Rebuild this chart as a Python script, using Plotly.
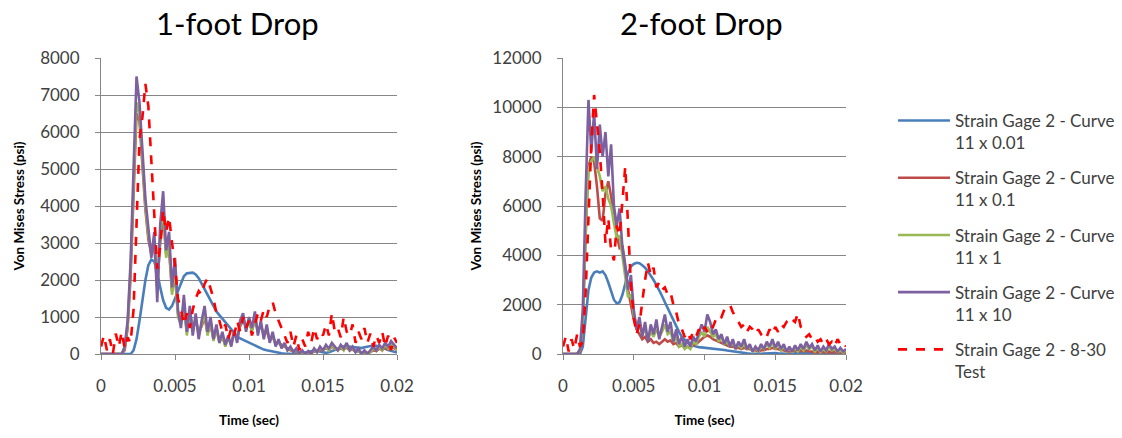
import numpy as np
import plotly.graph_objects as go

# Sample grid (seconds) shared by all series
time_s = np.round(np.linspace(0.0, 0.02, 101), 5)

series_names = [
    "Strain Gage 2 - Curve<br>11 x 0.01",
    "Strain Gage 2 - Curve<br>11 x 0.1",
    "Strain Gage 2 - Curve<br>11 x 1",
    "Strain Gage 2 - Curve<br>11 x 10",
    "Strain Gage 2 - 8-30<br>Test",
]
panel_titles = ["1-foot Drop", "2-foot Drop"]

# ---------------- 1-foot drop (psi) ----------------
ft1_curve_001 = [0,0,0,0,0,0,0,0,0,0, 0,100,400,900,1500,2000,2400,2550,2500,2200,
                 1800,1450,1250,1200,1300,1500,1750,1950,2100,2180, 2200,2200,2150,2050,1900,1750,1600,1450,1300,1150,
                 1050,950,850,750,650,550,480,420,380,340, 300,260,220,180,150,120,100,80,60,40,
                 30,20,10,0,0,0,0,0,20,40, 60,80,90,80,60,40,30,50,80,120,
                 150,180,200,210,200,180,160,150,160,180, 200,220,230,220,200,170,140,110,80,60, 40]
ft1_curve_01 = [0,0,0,0,0,0,0,0,100,700, 2100,4300,6500,6300,5100,3900,3100,2700,2900,1900,
                3000,3800,2700,2800,1700,2100,1100,900,1300,600, 1100,700,900,600,750,1000,550,800,400,650,
                350,450,250,400,300,550,450,750,900,750, 850,650,900,650,750,550,600,400,450,300,
                300,250,200,150,100,80,60,30,20,0, 20,30,60,80,100,120,150,120,200,150,
                120,150,120,180,100,120,60,80,30,40, 30,50,100,80,150,100,180,120,220,160, 100]
ft1_curve_1 = [0,0,0,0,0,0,0,0,150,800, 2300,4500,6800,6500,5300,4000,3200,2800,3000,1800,
               3200,4000,2600,3000,1600,2300,1000,800,1400,500, 1200,600,1000,500,800,1100,500,900,350,700,
               300,500,200,450,250,600,400,800,1000,700, 900,600,1000,600,800,500,700,350,500,250,
               350,200,250,100,150,50,100,0,50,0, 50,0,100,50,150,100,200,100,250,150,
               100,200,100,250,100,150,50,100,0,50, 0,50,150,100,200,100,250,150,300,200, 100]
ft1_curve_10 = [0,0,0,0,0,0,0,0,200,900, 2500,4800,7500,6800,5600,4200,3400,2600,3300,1400,
                3500,4400,2800,3300,1800,2600,1200,700,1600,600, 1300,500,1100,400,900,1300,600,1000,400,800,
                300,600,250,500,200,650,300,900,1100,600, 1000,700,1150,500,900,400,800,300,600,200,
                400,150,300,100,200,50,150,0,100,0, 80,0,150,50,200,100,250,150,300,200,
                100,250,150,300,100,200,50,150,0,100, 0,100,200,100,250,150,300,200,350,250, 150]
ft1_test = [200,500,100,400,0,550,200,600,150,450, 300,1200,3500,5800,6400,7300,6700,5200,3500,2300,
            2900,3900,3300,3700,3000,2400,1500,1200,800,1100, 700,1200,1500,1700,1600,1900,2050,1800,1500,1100,
            900,600,800,400,700,500,900,600,1000,700, 900,500,800,1100,900,1200,1000,1300,1400,1100,
            900,700,500,300,600,200,500,100,400,200, 600,300,700,400,600,500,800,500,1100,600,
            700,450,1000,600,500,800,300,600,400,700, 300,550,200,500,300,600,200,500,100,450, 300]

# ---------------- 2-foot drop (psi) ----------------
ft2_curve_001 = [0,0,0,0,0,0,0,300,1500,2600, 3100,3300,3350,3300,3350,3200,2900,2500,2200,2050,
                 2100,2400,2900,3300,3550,3650,3700,3680,3600,3500, 3350,3200,3000,2800,2600,2350,2100,1850,1600,1350,
                 1100,900,700,550,450,380,330,300,280,270, 260,250,240,230,220,200,180,160,140,120,
                 100,80,60,50,40,30,20,10,0,0, 10,20,30,40,50,40,30,20,10,0,
                 0,10,30,50,60,50,40,30,20,10, 0,0,10,20,30,40,30,20,10,0, 0]
ft2_curve_01 = [0,0,0,0,0,0,100,1200,4800,7600, 8000,7800,6800,5500,5400,6500,7000,6400,5600,4800,
                4300,4400,3600,2600,2000,1400,1000,800,600,700, 500,600,450,500,400,500,600,500,550,400,
                450,300,350,250,300,250,350,400,500,600, 700,750,700,600,550,500,450,400,350,300,
                300,250,250,200,250,200,200,150,150,100, 150,150,200,200,250,200,200,150,150,100,
                100,100,150,100,150,100,150,100,100,50, 100,50,100,50,100,50,100,50,80,30, 60]
ft2_curve_1 = [0,0,0,0,0,0,150,1400,5000,7500, 7800,8000,7600,7200,6600,6800,6300,6000,5300,4700,
               4800,3900,3000,2300,2400,1600,1100,1200,800,1000, 600,900,700,1000,700,900,1200,800,900,500,
               700,300,400,200,300,200,500,400,700,900, 700,1100,900,700,800,500,700,400,500,300,
               500,200,400,250,400,200,300,100,250,100, 300,200,400,250,500,200,400,150,300,100,
               250,100,250,100,300,150,350,200,300,100, 250,80,200,100,300,150,200,80,150,50, 150]
ft2_curve_10 = [0,0,0,0,0,0,200,1800,6500,10300, 8200,9800,7500,9300,8000,9000,7200,8500,6000,5200,
                5900,4300,3500,2600,3200,1800,1000,1500,700,1300, 500,1200,800,1400,600,1100,1600,900,1300,500,
                1000,400,700,300,600,300,700,500,900,1200, 900,1600,1300,800,1000,600,800,400,700,300,
                600,200,500,300,600,200,400,100,300,150, 400,200,500,300,600,250,500,200,400,100,
                300,100,350,150,400,200,500,250,400,150, 350,100,300,150,400,200,300,100,250,100, 200]
ft2_test = [300,700,100,600,200,800,300,500,2500,5500, 8500,10500,9400,8200,6500,4500,5500,4200,3800,5200,
            4800,6200,7600,5200,2800,1500,800,1200,2200,3000, 3700,3200,3500,2700,2900,2600,2700,2400,2500,2000,
            1700,1200,1000,700,900,600,900,700,1000,800, 1100,900,1200,1100,1400,1600,1500,1800,1900,2000,
            1700,1500,1300,1100,1200,900,1100,1000,800,1000, 800,900,700,1000,800,1100,900,1200,1100,1300,
            1200,1400,1300,1650,1100,900,700,800,600,700, 500,600,400,600,400,500,300,600,400,500, 300]

panels = [
    [ft1_curve_001, ft1_curve_01, ft1_curve_1, ft1_curve_10, ft1_test],
    [ft2_curve_001, ft2_curve_01, ft2_curve_1, ft2_curve_10, ft2_test],
]
y_max = [8000, 12000]
y_step = [1000, 2000]

colors = ["#4A7EBB", "#BE4B48", "#98B954", "#7D60A0", "#FF0000"]
dashes = ["solid", "solid", "solid", "solid", "dash"]

FONT = "Lato, Open Sans, sans-serif"
TXT = "#404040"

fig = go.Figure()
for p, series in enumerate(panels):
    xa = "x" if p == 0 else "x2"
    ya = "y" if p == 0 else "y2"
    for k, vals in enumerate(series):
        fig.add_trace(go.Scatter(
            x=time_s, y=vals, mode="lines", name=series_names[k],
            line=dict(color=colors[k], width=2.6, dash=dashes[k]),
            xaxis=xa, yaxis=ya, showlegend=(p == 0), legendgroup=f"g{k}",
        ))

x_dom = [[101 / 1122, 397 / 1122], [563 / 1122, 846 / 1122]]
y_dom = [84 / 438, 380 / 438]
title_cx = [237 / 1122, 702 / 1122]
ytitle_standoff = [12, 7]

for p in range(2):
    sfx = "" if p == 0 else "2"
    fig.update_layout(**{
        f"xaxis{sfx}": dict(
            domain=x_dom[p], range=[0, 0.02], dtick=0.005, tick0=0, automargin=False,
            showgrid=False, zeroline=False, showline=True, linecolor="#868686", linewidth=1,
            ticks="outside", ticklen=5, tickcolor="#868686", ticklabelstandoff=12,
            tickfont=dict(family=FONT, size=17, color=TXT),
            title=dict(text="<b>Time (sec)</b>", font=dict(family=FONT, size=13.5, color="#000000"), standoff=20),
            anchor="y" + sfx, fixedrange=True,
        ),
        f"yaxis{sfx}": dict(
            domain=y_dom, range=[0, y_max[p]], dtick=y_step[p], tick0=0, automargin=False,
            tickformat="d",
            showgrid=True, gridcolor="#868686", gridwidth=1, zeroline=False,
            showline=True, linecolor="#868686", linewidth=1,
            ticks="outside", ticklen=5, tickcolor="#868686", ticklabelstandoff=12,
            tickfont=dict(family=FONT, size=17, color=TXT),
            title=dict(text="<b>Von Mises Stress (psi)</b>", font=dict(family=FONT, size=13.5, color="#000000"),
                       standoff=ytitle_standoff[p]),
            anchor="x" + sfx, fixedrange=True,
        ),
    })

for p, title in enumerate(panel_titles):
    fig.add_annotation(text=title, x=title_cx[p], y=(438 - 23) / 438, xref="paper", yref="paper",
                       showarrow=False, font=dict(family=FONT, size=31, color="#000000"),
                       xanchor="center", yanchor="middle")

fig.update_layout(
    width=1122, height=438,
    margin=dict(l=0, r=0, t=0, b=0),
    paper_bgcolor="white", plot_bgcolor="white",
    showlegend=True,
    legend=dict(
        x=893 / 1122, y=(438 - 103) / 438, xanchor="left", yanchor="top",
        font=dict(family=FONT, size=17, color=TXT),
        tracegroupgap=10, valign="top", itemwidth=52, bgcolor="rgba(0,0,0,0)",
    ),
)

fig.write_html("out.html", config={"displayModeBar": False},
               post_script="document.body.style.margin='0px';")
